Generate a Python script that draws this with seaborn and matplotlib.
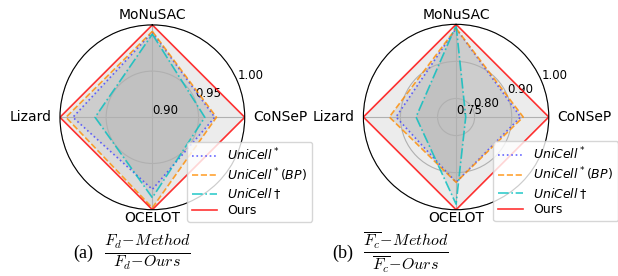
import numpy as np
import matplotlib
matplotlib.use('Agg')
import matplotlib.pyplot as plt
import seaborn as sns

categories = ['MoNuSAC', 'CoNSeP', 'OCELOT', 'Lizard']
methods = ['$UniCell^*$', '$UniCell^*(BP)$', '$UniCell\\dagger$', 'Ours']

# (a) Fd ratios
fd_unicell = [0.992, 0.9676, 0.978, 0.986]
fd_unicell_bp = [0.993, 0.9694, 0.998, 0.9935]
fd_unicell_dag = [0.990, 0.9568, 0.987, 0.962]
fd_ours = [1.0, 1.0, 1.0, 1.0]

# (b) mean Fc ratios
fc_unicell = [0.989, 0.924, 0.926, 0.912]
fc_unicell_bp = [0.989, 0.931, 0.926, 0.930]
fc_unicell_dag = [0.9975, 0.776, 0.985, 0.858]
fc_ours = [1.0, 1.0, 1.0, 1.0]

ticks_a = [0.90, 0.95, 1.00]
ticks_b = [0.75, 0.80, 0.90, 1.00]

colors = [(0.25, 0.25, 1.0), 'darkorange', 'c', 'red']
styles = [':', '--', '-.', '-']

fig = plt.figure(figsize=(6.18, 2.76), dpi=100)


def radar(ax, series, rticks, legend_xy):
    theta = np.linspace(0, 2 * np.pi, len(categories), endpoint=False)
    th = np.append(theta, theta[0])
    ax.set_theta_offset(np.pi / 2)
    ax.set_theta_direction(-1)
    ax.set_ylim(rticks[0], rticks[-1])
    for vals, lab, c, ls in zip(series, methods, colors, styles):
        v = np.append(vals, vals[0])
        sns.lineplot(x=th, y=v, ax=ax, sort=False, errorbar=None,
                     estimator=None, color=c, linestyle=ls,
                     linewidth=1.2, alpha=0.8, label=lab)
        ax.fill(theta, vals, color='gray', alpha=0.15, linewidth=0)
    ax.set_xlim(0, 2 * np.pi)
    ax.set_ylim(rticks[0], rticks[-1])
    ax.set_xticks(theta)
    ax.set_xticklabels([])
    ax.set_yticks(rticks)
    ax.set_yticklabels(['%.2f' % t for t in rticks], fontsize=8.5)
    ax.set_rlabel_position(67.5)
    ax.set_xlabel('')
    ax.set_ylabel('')
    # category labels anchored just outside the circle
    place = [((0, 2), 'center', 'bottom'), ((6, 0), 'left', 'center'),
             ((0, -1), 'center', 'top'), ((-6, 0), 'right', 'center')]
    for t, cat, (off, ha, va) in zip(theta, categories, place):
        ax.annotate(cat, xy=(t, rticks[-1]), xytext=off,
                    textcoords='offset points', ha=ha, va=va, fontsize=10,
                    annotation_clip=False)
    leg = ax.legend(loc='upper left', bbox_to_anchor=legend_xy,
                    bbox_transform=fig.transFigure, borderaxespad=0,
                    fontsize=9, labelspacing=0.22)
    leg.set_zorder(10)


ax1 = fig.add_axes([0.097, 0.240, 0.299, 0.670], projection='polar')
radar(ax1, [fd_unicell, fd_unicell_bp, fd_unicell_dag, fd_ours], ticks_a,
      (0.303, 0.487))
ax2 = fig.add_axes([0.588, 0.240, 0.300, 0.672], projection='polar')
radar(ax2, [fc_unicell, fc_unicell_bp, fc_unicell_dag, fc_ours], ticks_b,
      (0.798, 0.489))

fig.text(0.118, 0.083, '(a)', fontsize=13, family='Liberation Serif',
         ha='left', va='center')
fig.text(0.168, 0.086, r'$\frac{F_d\!-\!Method}{F_d\!-\!Ours}$', fontsize=16.5,
         math_fontfamily='cm', ha='left', va='center')
fig.text(0.537, 0.083, '(b)', fontsize=13, family='Liberation Serif',
         ha='left', va='center')
fig.text(0.588, 0.086,
         r'$\frac{\overline{F_c}\!-\!Method}{\overline{F_c}\!-\!Ours}$',
         fontsize=16.5, math_fontfamily='cm', ha='left', va='center')

fig.savefig('out.png', dpi=100)
